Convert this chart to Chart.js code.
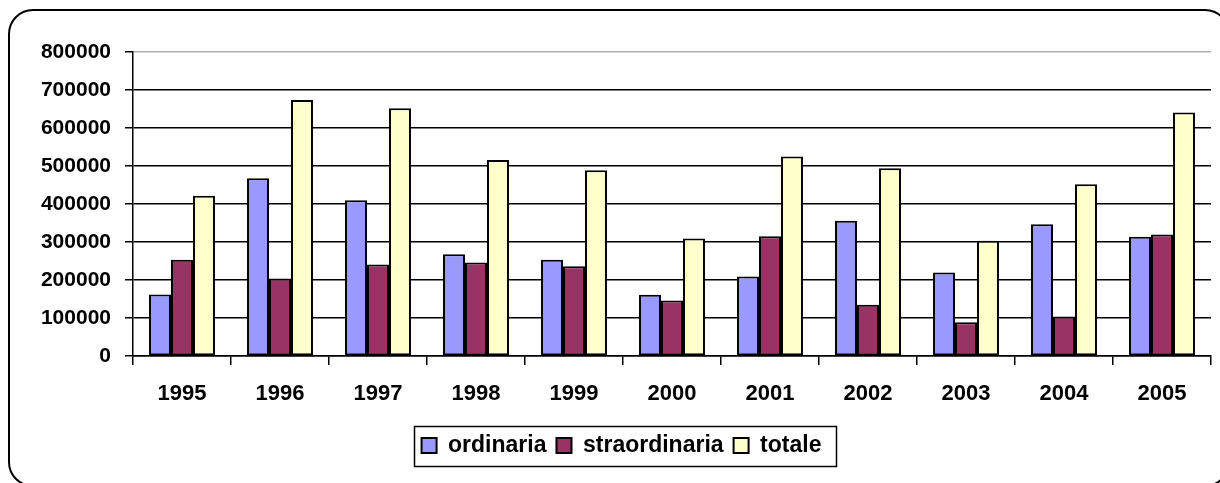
<!DOCTYPE html>
<html>
<head>
<meta charset="utf-8">
<script src="https://cdn.jsdelivr.net/npm/chart.js@4.4.1/dist/chart.umd.min.js"></script>
<style>
  html, body { margin: 0; padding: 0; background: #fff; overflow: hidden; width: 1220px; height: 483px; }
  #frame { position: absolute; left: 8px; top: 9px; width: 1222px; height: 478px; border: 2px solid #000; border-radius: 25px; box-sizing: border-box; }
  #wrap { position: absolute; left: 0; top: 0; width: 1220px; height: 483px; }
</style>
</head>
<body>
<div id="frame"></div>
<div id="wrap"><canvas id="c" width="1220" height="483"></canvas></div>
<script>
const years = ['1995','1996','1997','1998','1999','2000','2001','2002','2003','2004','2005'];
const ordinaria = [162000, 468000, 410000, 268000, 253000, 161000, 209000, 356000, 220000, 347000, 314000];
const straordinaria = [253000, 204000, 241000, 246000, 236000, 146000, 315000, 135000, 89000, 104000, 320000];
const totale = [422000, 674000, 652000, 516000, 489000, 309000, 525000, 494000, 303000, 452000, 641000];
const seriesNames = ['ordinaria', 'straordinaria', 'totale'];
const yTicks = [0, 100000, 200000, 300000, 400000, 500000, 600000, 700000, 800000];

const FONT = "'Liberation Sans', Arial, sans-serif";

const legendShift = {
  id: 'legendShift',
  afterLayout(chart) {
    const lg = chart.legend;
    if (!lg) return;
    lg.left += 16;
    lg.right += 16;
  }
};

const legendBorder = {
  id: 'legendBorder',
  afterDraw(chart) {
    const lg = chart.legend;
    if (!lg || !lg.legendHitBoxes || !lg.legendHitBoxes.length) return;
    const hb = lg.legendHitBoxes;
    let l = Infinity, r = -Infinity;
    hb.forEach(b => { l = Math.min(l, b.left); r = Math.max(r, b.left + b.width); });
    const cy = hb[0].top + hb[0].height / 2;
    const ctx = chart.ctx;
    ctx.save();
    ctx.strokeStyle = '#000';
    ctx.lineWidth = 1.5;
    ctx.strokeRect(Math.round(l - 8) + 0.5, Math.round(cy - 20) + 0.5, Math.round(r - l + 22), 40);
    ctx.restore();
  }
};

new Chart(document.getElementById('c'), {
  type: 'bar',
  data: {
    labels: years,
    datasets: [
      { label: seriesNames[0], data: ordinaria, backgroundColor: '#9999FF' },
      { label: seriesNames[1], data: straordinaria, backgroundColor: '#993366' },
      { label: seriesNames[2], data: totale, backgroundColor: '#FFFFCC' }
    ]
  },
  options: {
    responsive: false,
    animation: false,
    devicePixelRatio: 1,
    layout: { padding: { left: 0, top: 52, right: 9, bottom: 16 } },
    datasets: {
      bar: {
        categoryPercentage: 0.673,
        barPercentage: 1,
        borderColor: '#000',
        borderWidth: 2,
        borderSkipped: false
      }
    },
    plugins: {
      legend: {
        position: 'bottom',
        labels: {
          color: '#000',
          font: { family: FONT, size: 23, weight: 'bold' },
          boxWidth: 15,
          boxHeight: 15,
          padding: 10
        }
      },
      tooltip: { enabled: false },
      title: { display: false }
    },
    scales: {
      x: {
        grid: { display: true, drawOnChartArea: false, drawTicks: true, tickLength: 9, color: '#000', lineWidth: 1.5, offset: true },
        border: { display: true, color: '#000', width: 1.5 },
        ticks: { color: '#000', font: { family: FONT, size: 22, weight: 'bold' }, padding: 16, maxRotation: 0, autoSkip: false },
        afterFit(scale) { scale.height = 68; }
      },
      y: {
        min: 0,
        max: 800000,
        afterBuildTicks(scale) { scale.ticks = yTicks.map(v => ({ value: v })); },
        grid: {
          color: ctx => (ctx.tick && ctx.tick.value === 800000) ? '#b0b0b0' : '#000',
          tickColor: '#000',
          lineWidth: 1.5,
          tickLength: 8,
          drawTicks: true
        },
        border: { display: true, color: '#000', width: 1.5 },
        ticks: {
          color: '#000',
          font: { family: FONT, size: 21, weight: 'bold' },
          padding: 14,
          callback: v => String(v)
        },
        afterFit(scale) { scale.width = 133; }
      }
    }
  },
  plugins: [legendShift, legendBorder]
});
</script>
</body>
</html>
